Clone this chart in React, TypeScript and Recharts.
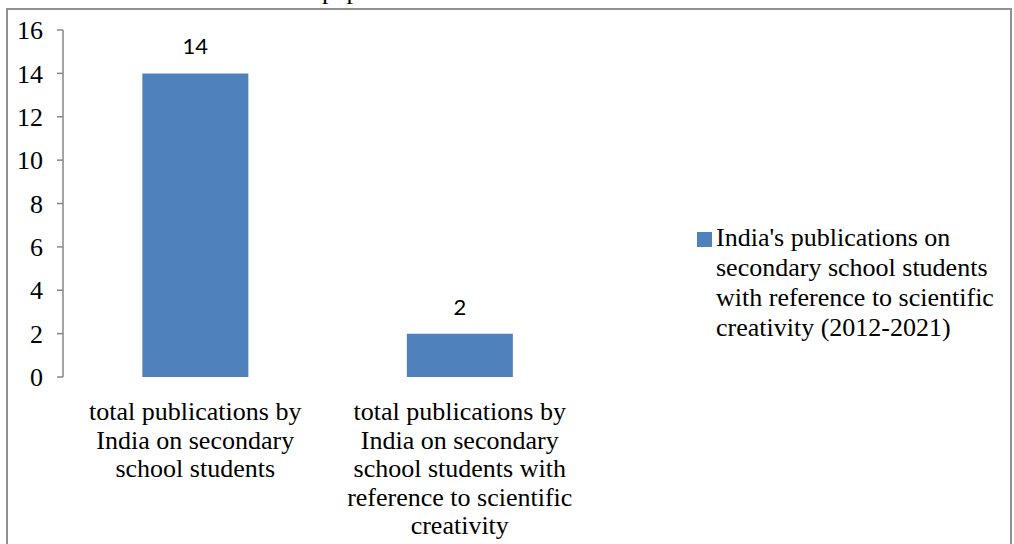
import { BarChart, Bar, XAxis, YAxis, LabelList, Legend } from "recharts"

const categories = [
  "total publications by India on secondary school students",
  "total publications by India on secondary school students with reference to scientific creativity",
]
const publicationCounts = [14, 2]
const yTicks = [0, 2, 4, 6, 8, 10, 12, 14, 16]
const seriesName =
  "India's publications on secondary school students with reference to scientific creativity (2012-2021)"

const data = categories.map((name, i) => ({ name, value: publicationCounts[i] }))
const edgeTicks = [...categories.map((_, i) => i), categories.length]

const SERIF = "'Times New Roman', 'Liberation Serif', serif"
const AXIS_GRAY = "#868686"
const BAR_BLUE = "#4F81BD"

// word wrap measured with a canvas, so the lines break like Excel's
let ctx: CanvasRenderingContext2D | null = null
const wrapWords = (text: string, maxWidth: number, font: string) => {
  if (!ctx) ctx = document.createElement("canvas").getContext("2d")
  if (ctx) ctx.font = font
  const measure = (s: string) => (ctx ? ctx.measureText(s).width : s.length * 11)
  const lines: string[] = []
  let line = ""
  for (const word of text.split(" ")) {
    const test = line ? line + " " + word : word
    if (line && measure(test) > maxWidth) {
      lines.push(line)
      line = word
    } else {
      line = test
    }
  }
  if (line) lines.push(line)
  return lines
}

const CategoryTick = (props: any) => {
  const { x, y, payload } = props
  const lines = wrapWords(String(payload.value), 240, "26px 'Liberation Serif'")
  return (
    <text
      x={x}
      y={y + 43}
      textAnchor="middle"
      fill="#000"
      style={{ fontFamily: SERIF, fontSize: 26 }}
    >
      {lines.map((l, i) => (
        <tspan key={i} x={x} dy={i === 0 ? 0 : 28.5}>
          {l}
        </tspan>
      ))}
    </text>
  )
}

const LegendBox = (props: any) => {
  const { payload } = props
  return (
    <div>
      {(payload || []).map((entry: any) => (
        <div key={entry.value} style={{ display: "flex", alignItems: "flex-start" }}>
          <span
            style={{
              width: 15,
              height: 15,
              background: entry.color,
              marginTop: 9,
              marginRight: 4,
              flexShrink: 0,
            }}
          />
          <span
            style={{
              width: 285,
              fontFamily: SERIF,
              fontSize: 26,
              lineHeight: "30px",
              color: "#000",
            }}
          >
            {entry.value}
          </span>
        </div>
      ))}
    </div>
  )
}

export default function App() {
  return (
    <div
      style={{
        position: "absolute",
        left: 0,
        top: 0,
        width: 1014,
        height: 544,
        overflow: "hidden",
        background: "#fff",
      }}
    >
      <span
        style={{
          position: "absolute",
          left: 322,
          top: -24,
          fontFamily: SERIF,
          fontSize: 26,
          lineHeight: "30px",
          color: "#000",
        }}
      >
        pap
      </span>
      <div
        style={{
          position: "absolute",
          left: 6,
          top: 8,
          width: 1006,
          height: 560,
          border: "2px solid #909090",
          boxSizing: "border-box",
        }}
      />
      <div style={{ position: "absolute", left: 0, top: 0 }}>
        <BarChart
          width={1014}
          height={544}
          data={data}
          margin={{ top: 30, right: 422, bottom: 0, left: 0 }}
          barCategoryGap="30%"
        >
          <XAxis
            xAxisId="edge"
            type="number"
            domain={[0, categories.length]}
            ticks={edgeTicks}
            allowDataOverflow
            height={0}
            tick={false}
            tickSize={7}
            axisLine={{ stroke: AXIS_GRAY, strokeWidth: 1.5 }}
            tickLine={{ stroke: AXIS_GRAY, strokeWidth: 1.5 }}
          />
          <XAxis
            dataKey="name"
            height={167}
            axisLine={false}
            tickLine={false}
            tickSize={0}
            tickMargin={0}
            interval={0}
            tick={<CategoryTick />}
          />
          <YAxis
            width={63}
            domain={[0, 16]}
            ticks={yTicks}
            interval={0}
            tickSize={6}
            tickMargin={14}
            axisLine={{ stroke: AXIS_GRAY, strokeWidth: 1.5 }}
            tickLine={{ stroke: AXIS_GRAY, strokeWidth: 1.5 }}
            tick={{ fill: "#000", fontSize: 26, fontFamily: SERIF }}
          />
          <Legend
            layout="horizontal"
            align="center"
            verticalAlign="middle"
            content={<LegendBox />}
            wrapperStyle={{ left: 697, top: 223, width: 310 }}
          />
          <Bar dataKey="value" name={seriesName} fill={BAR_BLUE} isAnimationActive={false}>
            <LabelList
              dataKey="value"
              position="top"
              offset={19}
              fill="#000"
              style={{ fontFamily: "Lato, 'Open Sans', sans-serif", fontSize: 22 }}
            />
          </Bar>
        </BarChart>
      </div>
    </div>
  )
}
